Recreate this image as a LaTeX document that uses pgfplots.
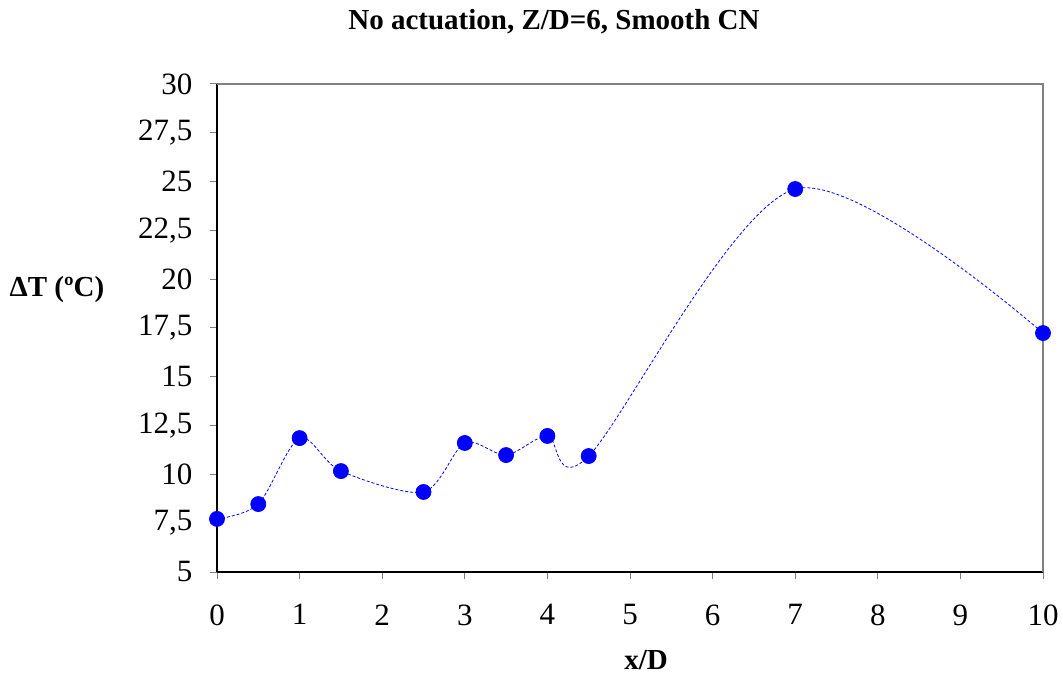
\documentclass[border=0pt]{standalone}
\usepackage{fontspec}
\setmainfont{Liberation Serif}
\usepackage{pgfplots}
\pgfplotsset{compat=1.18}
\begin{document}
\begin{tikzpicture}[x=1pt,y=1pt]
\path (0,0) rectangle (1063,675);
\begin{axis}[
  at={(217pt,103pt)}, anchor=south west,
  scale only axis, width=826pt, height=488pt,
  xmin=0, xmax=10, ymin=5, ymax=30,
  xtick={0,1,...,10}, ytick={5,7.5,...,30},
  axis x line*=bottom, axis y line*=left,
  axis line style={black, line width=1.5pt, -},
  tick align=outside, major tick length=7pt,
  tick style={gray, line width=1pt},
  /pgf/number format/.cd, use comma, 1000 sep={}, assume math mode=true,
  /pgfplots/.cd,
  ticklabel style={font=\fontsize{31}{36}\selectfont},
  yticklabel style={xshift=-14pt},
  xticklabel style={yshift=-22pt},
  clip=false,
]
\draw[gray, line width=2pt] (rel axis cs:0,1) -- (rel axis cs:1,1) -- (rel axis cs:1,0);
\addplot[blue, line width=0.8pt, dash pattern=on 3pt off 2pt, smooth, tension=0.5, mark=*, mark size=7.5pt, mark options={solid, fill=blue, draw=blue}]
coordinates {
(0,7.72) (0.5,8.48) (1,11.86) (1.5,10.17) (2.5,9.10) (3,11.61) (3.5,10.99) (4,11.97) (4.5,10.94) (7,24.62) (10,17.24)
};
\end{axis}
\node[font=\fontsize{29}{34}\selectfont\bfseries] at (554,653) {No actuation, Z/D=6, Smooth CN};
\node[font=\fontsize{29}{34}\selectfont\bfseries] at (57,385) {ΔT (ºC)};
\node[font=\fontsize{29}{34}\selectfont\bfseries, anchor=base, inner sep=0pt] at (646,6) {x/D};
\end{tikzpicture}
\end{document}
